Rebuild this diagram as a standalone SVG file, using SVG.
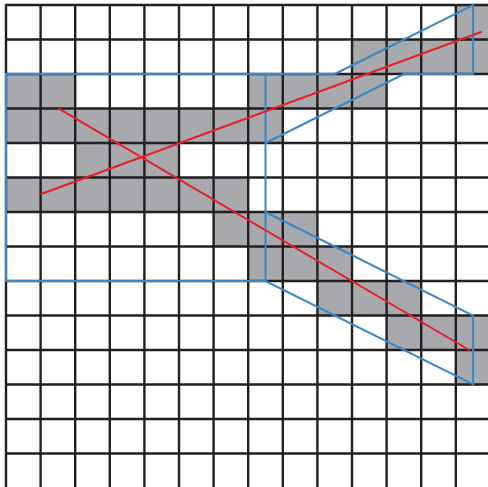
<svg xmlns="http://www.w3.org/2000/svg" width="488" height="487" viewBox="0 0 488 487">
  <style>
    .cell { fill: #a7a9ac; stroke: none; }
    .grid { fill: none; stroke: #231f20; stroke-width: 2.4; }
    .blue { fill: none; stroke: #3a87c8; stroke-width: 2; stroke-linejoin: miter; }
    .red { fill: none; stroke: #e8202a; stroke-width: 2; }
  </style>
  <rect width="488" height="487" fill="#ffffff"/>
  <g id="cells">
    <rect class="cell" x="455.8" y="5" width="34.6" height="34.5"/>
    <rect class="cell" x="352" y="39.5" width="138.4" height="34.5"/>
    <rect class="cell" x="6" y="74" width="69.2" height="34.5"/>
    <rect class="cell" x="248.2" y="74" width="138.4" height="34.5"/>
    <rect class="cell" x="6" y="108.5" width="276.8" height="34.5"/>
    <rect class="cell" x="75.2" y="143" width="103.8" height="34.5"/>
    <rect class="cell" x="6" y="177.5" width="242.2" height="34.5"/>
    <rect class="cell" x="213.6" y="212" width="103.8" height="34.5"/>
    <rect class="cell" x="248.2" y="246.5" width="103.8" height="34.5"/>
    <rect class="cell" x="317.4" y="281" width="103.8" height="34.5"/>
    <rect class="cell" x="386.6" y="315.5" width="103.8" height="34.5"/>
    <rect class="cell" x="455.8" y="350" width="34.6" height="34.5"/>
  </g>
  <g id="grid">
    <path class="grid" d="M6 4V487 M40.6 4V487 M75.2 4V487 M109.8 4V487 M144.4 4V487 M179 4V487 M213.6 4V487 M248.2 4V487 M282.8 4V487 M317.4 4V487 M352 4V487 M386.6 4V487 M421.2 4V487 M455.8 4V487"/>
    <path class="grid" d="M5 5H488 M5 39.5H488 M5 74H488 M5 108.5H488 M5 143H488 M5 177.5H488 M5 212H488 M5 246.5H488 M5 281H488 M5 315.5H488 M5 350H488 M5 384.5H488 M5 419H488 M5 453.5H488"/>
  </g>
  <g id="connectors">
    <path class="blue" d="M334.7 74H6V281H265.5L473.1 384.5V315.5L265.5 212"/>
    <path class="blue" d="M265.5 74V281"/>
    <path class="blue" d="M265.5 143L403.9 74H473.1V5L334.7 74"/>
    <path class="red" d="M40.7 194.3L481.7 31.7"/>
    <path class="red" d="M58.3 108.3L470 350.5"/>
  </g>
</svg>
